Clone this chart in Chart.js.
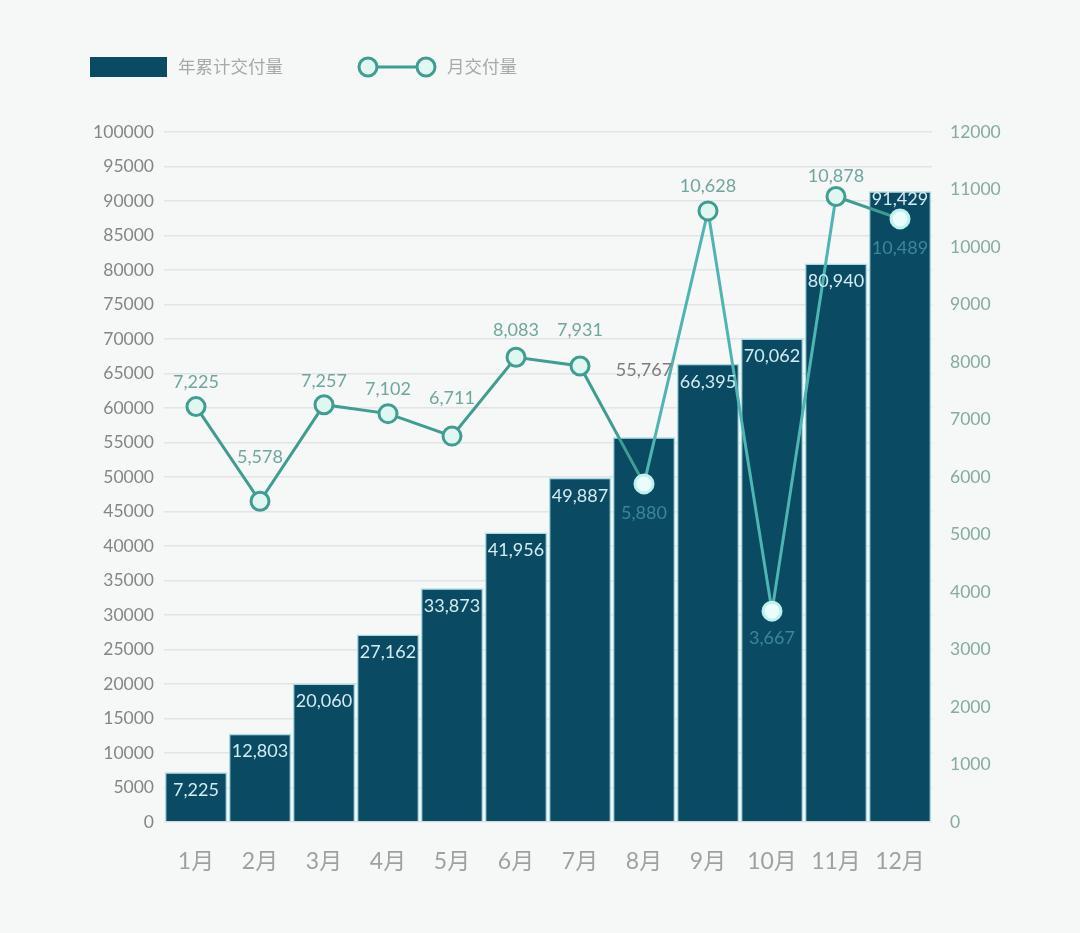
<!DOCTYPE html>
<html>
<head>
<meta charset="utf-8">
<script src="https://cdn.jsdelivr.net/npm/chart.js@4.4.1/dist/chart.umd.min.js"></script>
<style>
html,body{margin:0;padding:0;background:#f6f7f7;}
#wrap{position:relative;width:1080px;height:933px;}
</style>
</head>
<body>
<div id="wrap"><canvas id="c" width="1080" height="933"></canvas></div>
<script>
// ---- data ----
const months = ['1月','2月','3月','4月','5月','6月','7月','8月','9月','10月','11月','12月'];
const cumulative = [7225, 12803, 20060, 27162, 33873, 41956, 49887, 55767, 66395, 70062, 80940, 91429];
const monthly = [7225, 5578, 7257, 7102, 6711, 8083, 7931, 5880, 10628, 3667, 10878, 10489];
const barSeriesName = '年累计交付量';
const lineSeriesName = '月交付量';
const leftTicks = [0,5000,10000,15000,20000,25000,30000,35000,40000,45000,50000,55000,60000,65000,70000,75000,80000,85000,90000,95000,100000];
const rightTicks = [0,1000,2000,3000,4000,5000,6000,7000,8000,9000,10000,11000,12000];

const FONT = "Lato, 'Noto Sans CJK SC', 'DejaVu Sans', sans-serif";
const BAR = '#0b4a63';
const LINE = '#3f9d91';
const LINE_LIGHT = '#4fb5b2';
const fmt = v => v.toLocaleString('en-US');

// label placement styling (not data)
const barLabelOffset = {7: -67, 11: 8};           // default: inside top
const lineLabelOffsets = [-24,-44,-24,-24,-38,-27,-36,29,-25,27,-20,29];
const insideBar = [false,false,false,false,false,false,false,true,false,true,false,true];

const labelPlugin = {
  id: 'labels',
  afterDatasetsDraw(chart) {
    const ctx = chart.ctx;
    ctx.save();
    ctx.textAlign = 'center';
    ctx.textBaseline = 'middle';
    ctx.font = '18px ' + FONT;
    const bm = chart.getDatasetMeta(0);
    bm.data.forEach((el, i) => {
      let color = '#d3ecf1';
      let off = 18;
      if (barLabelOffset[i] !== undefined) { off = barLabelOffset[i]; if (off < 0) color = '#7d7d7d'; }
      ctx.fillStyle = color;
      ctx.fillText(fmt(cumulative[i]), el.x, el.y + off);
    });
    const lm = chart.getDatasetMeta(1);
    lm.data.forEach((el, i) => {
      ctx.fillStyle = insideBar[i] ? '#3b8795' : '#6fa79e';
      ctx.fillText(fmt(monthly[i]), el.x, el.y + lineLabelOffsets[i]);
    });
    ctx.restore();
  },
  afterDraw(chart) {
    const ctx = chart.ctx;
    ctx.save();
    ctx.fillStyle = BAR;
    ctx.fillRect(90, 57, 77, 20);
    ctx.font = '17.5px ' + FONT;
    ctx.fillStyle = '#a8a8a8';
    ctx.textBaseline = 'middle';
    ctx.textAlign = 'left';
    ctx.fillText(barSeriesName, 178, 67);
    ctx.strokeStyle = LINE;
    ctx.lineWidth = 3;
    ctx.beginPath(); ctx.moveTo(368, 67); ctx.lineTo(426, 67); ctx.stroke();
    [368, 426].forEach(x => {
      ctx.beginPath(); ctx.arc(x, 67, 9, 0, Math.PI * 2);
      ctx.fillStyle = '#e3f7f2'; ctx.fill(); ctx.stroke();
    });
    ctx.fillStyle = '#a8a8a8';
    ctx.fillText(lineSeriesName, 447, 67);
    ctx.restore();
  }
};

const bgPlugin = {
  id: 'bg',
  beforeDraw(chart) {
    const ctx = chart.ctx;
    ctx.save(); ctx.fillStyle = '#f6f7f7'; ctx.fillRect(0, 0, chart.width, chart.height); ctx.restore();
  }
};

new Chart(document.getElementById('c'), {
  data: {
    labels: months,
    datasets: [
      {
        type: 'bar', label: barSeriesName, data: cumulative, yAxisID: 'y',
        backgroundColor: BAR, borderColor: '#a6dbe6', borderWidth: 1.5,
        barPercentage: 0.975, categoryPercentage: 1, order: 2
      },
      {
        type: 'line', label: lineSeriesName, data: monthly, yAxisID: 'y1',
        borderColor: LINE, borderWidth: 3, tension: 0,
        segment: {
          borderColor: c => (c.p0DataIndex >= 7 && c.p1DataIndex <= 10) ? LINE_LIGHT : LINE
        },
        pointRadius: 9, pointBorderWidth: 3,
        pointBackgroundColor: insideBar.map(b => b ? '#eafcfb' : '#e0f6f1'),
        pointBorderColor: insideBar.map(b => b ? '#bdf1ee' : LINE),
        order: 1
      }
    ]
  },
  options: {
    responsive: false, animation: false,
    layout: { padding: { top: 132, left: 0, right: 0, bottom: 0 } },
    plugins: { legend: { display: false }, tooltip: { enabled: false } },
    scales: {
      x: {
        offset: true,
        grid: { display: false, drawTicks: false },
        border: { display: false },
        ticks: { font: { size: 23, family: FONT }, color: '#a0a0a0', padding: 26 },
        afterFit(s) { s.height = 933 - 822; }
      },
      y: {
        position: 'left', min: 0, max: 100000,
        afterBuildTicks(s) { s.ticks = leftTicks.map(v => ({ value: v })); },
        grid: { color: '#e2e4e5', lineWidth: 1.5, drawTicks: false },
        border: { display: false },
        ticks: { font: { size: 17.5, family: FONT }, color: '#858585', padding: 10, callback: v => String(v) },
        afterFit(s) { s.width = 164; }
      },
      y1: {
        position: 'right', min: 0, max: 12000,
        afterBuildTicks(s) { s.ticks = rightTicks.map(v => ({ value: v })); },
        grid: { display: false, drawTicks: false },
        border: { display: false },
        ticks: { font: { size: 17.5, family: FONT }, color: '#86ab9f', padding: 18, callback: v => String(v) },
        afterFit(s) { s.width = 1080 - 932; }
      }
    }
  },
  plugins: [bgPlugin, labelPlugin]
});
</script>
</body>
</html>
